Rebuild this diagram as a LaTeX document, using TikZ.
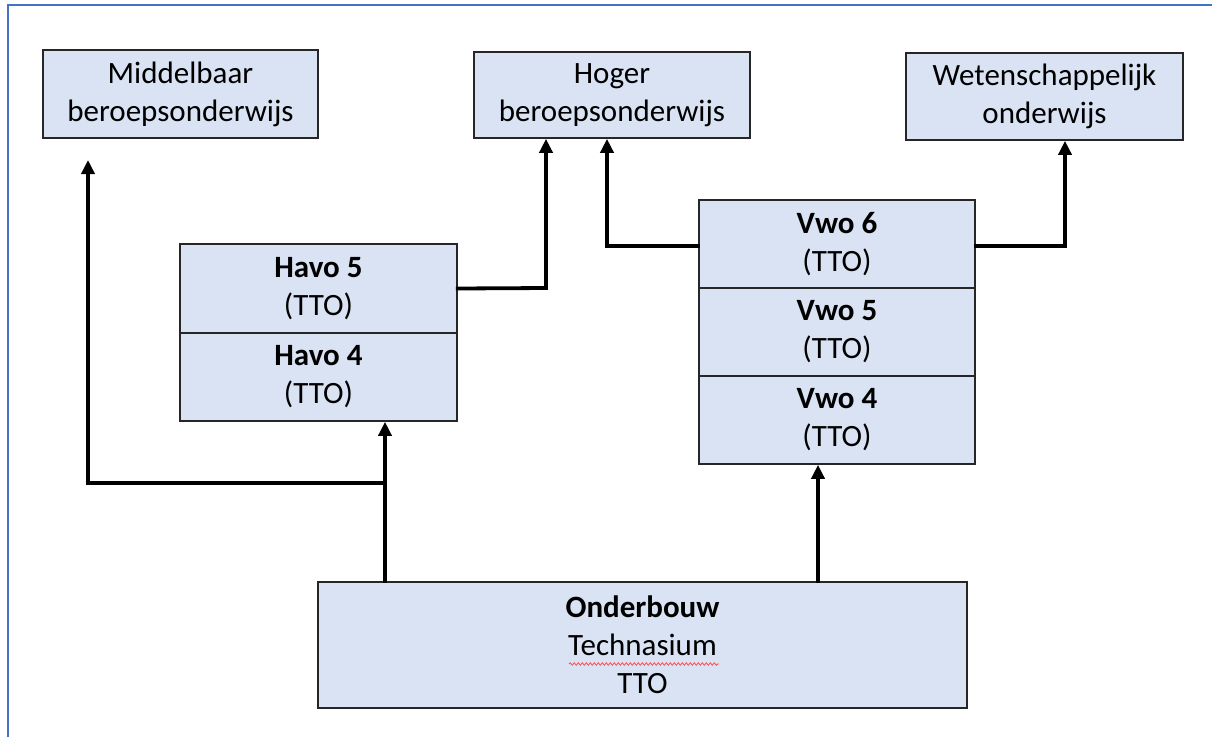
\documentclass[tikz,border=0pt]{standalone}
\usepackage{fontspec}
\setmainfont{Carlito}
\usetikzlibrary{arrows.meta,decorations.pathmorphing}
\definecolor{boxfill}{RGB}{218,227,243}
\definecolor{frameblue}{RGB}{68,114,196}
\tikzset{
  box/.style={draw=black!85, line width=1.6pt, fill=boxfill, inner sep=0pt, align=center,
    font=\fontsize{31}{38}\selectfont},
  conn/.style={line width=3.8pt, line cap=rect, line join=miter},
  arr/.style={conn, -{Triangle[width=13pt,length=14pt]}}
}
\begin{document}
\begin{tikzpicture}[x=1pt,y=-1pt]
\useasboundingbox (0,0) rectangle (1212,737);
% frame
\draw[frameblue, line width=2.8pt] (8,737) -- (8,5) -- (1212,5);
% top boxes
\node[box, minimum width=275pt, minimum height=88pt] (mbo) at (180.5,94) {Middelbaar\\beroepsonderwijs};
\node[box, minimum width=276pt, minimum height=86pt] (hbo) at (612,95) {Hoger\\beroepsonderwijs};
\node[box, minimum width=277pt, minimum height=87pt] (wo) at (1044.5,96.5) {Wetenschappelijk\\onderwijs};
% havo stack
\node[box, minimum width=277pt, minimum height=89pt] (havo5) at (318.5,288.5) {\textbf{Havo 5}\\(TTO)};
\node[box, minimum width=277pt, minimum height=88pt] (havo4) at (318.5,377) {\textbf{Havo 4}\\(TTO)};
% vwo stack
\node[box, minimum width=276pt, minimum height=88pt] (vwo6) at (837,244) {\textbf{Vwo 6}\\(TTO)};
\node[box, minimum width=276pt, minimum height=88pt] (vwo5) at (837,332) {\textbf{Vwo 5}\\(TTO)};
\node[box, minimum width=276pt, minimum height=88pt] (vwo4) at (837,420) {\textbf{Vwo 4}\\(TTO)};
% onderbouw
\node[box, minimum width=649pt, minimum height=126pt] (onder) at (642.5,645) {\textbf{Onderbouw}\\Technasium\\TTO};
\draw[red!70, line width=0.8pt, decorate, decoration={snake, amplitude=1.2pt, segment length=4pt}]
  (569,664) -- (719,664);
% connectors
\coordinate (mboTip) at (88,160);
\coordinate (split) at (385,483);
\draw[arr] (onder.north -| split) -- (havo4.south -| split);
\draw[arr] (split) -- (split -| mboTip) -- (mboTip);
\coordinate (h5c) at (546,288);
\draw[arr] (havo5.east) -- (h5c) -- (hbo.south -| h5c);
\coordinate (v6l) at (607,246);
\draw[arr] (vwo6.west |- v6l) -- (v6l) -- (hbo.south -| v6l);
\coordinate (v6r) at (1065,246);
\draw[arr] (vwo6.east |- v6r) -- (v6r) -- (wo.south -| v6r);
\coordinate (v4c) at (818,0);
\draw[arr] (onder.north -| v4c) -- (vwo4.south -| v4c);
\end{tikzpicture}
\end{document}
